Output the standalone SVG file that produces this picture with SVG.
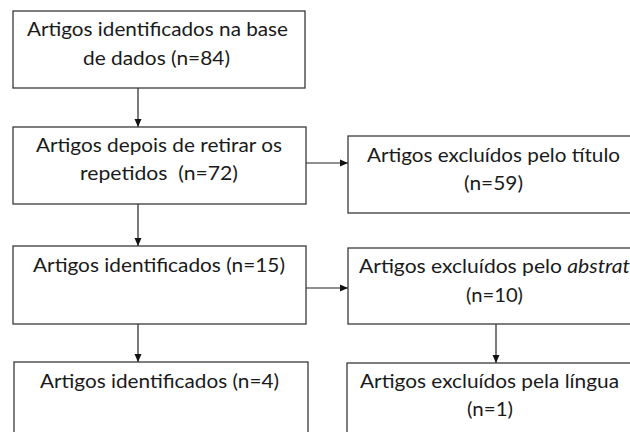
<svg xmlns="http://www.w3.org/2000/svg" width="630" height="432" viewBox="0 0 630 432">
<style>
.box{fill:#fff;stroke:#3a3a3a;stroke-width:1.3}
.t{font-family:Lato,"Open Sans","Liberation Sans",sans-serif;font-size:19.5px;fill:#1a1a1a;text-anchor:middle}
.c{stroke:#222;stroke-width:1.2;fill:none;marker-end:url(#ah)}
</style>
<defs>
<marker id="ah" viewBox="0 0 8 8" refX="8" refY="4" markerWidth="8" markerHeight="8" markerUnits="userSpaceOnUse" orient="auto">
<path d="M0,0.5 L8,4 L0,7.5 Z" fill="#111"/>
</marker>
</defs>
<rect width="630" height="432" fill="#fff"/>
<g id="connectors">
<line class="c" x1="138" y1="88" x2="138" y2="127"/>
<line class="c" x1="306" y1="163" x2="348" y2="163"/>
<line class="c" x1="138" y1="204" x2="138" y2="246"/>
<line class="c" x1="306" y1="288" x2="348" y2="288"/>
<line class="c" x1="138" y1="324" x2="138" y2="362"/>
<line class="c" x1="496" y1="324" x2="496" y2="363"/>
</g>
<g id="n1">
<rect class="box" x="13" y="11" width="292" height="77"/>
<text class="t" x="157.5" y="36" textLength="261" lengthAdjust="spacingAndGlyphs">Artigos identificados na base</text>
<text class="t" x="156.5" y="65" textLength="147" lengthAdjust="spacingAndGlyphs">de dados (n=84)</text>
</g>
<g id="n2">
<rect class="box" x="13" y="127" width="293" height="77"/>
<text class="t" x="159" y="152" textLength="246" lengthAdjust="spacingAndGlyphs">Artigos depois de retirar os</text>
<text class="t" x="159" y="180" textLength="158" lengthAdjust="spacingAndGlyphs" xml:space="preserve">repetidos  (n=72)</text>
</g>
<g id="n3">
<rect class="box" x="348" y="136" width="290" height="77"/>
<text class="t" x="493.5" y="162" textLength="253" lengthAdjust="spacingAndGlyphs">Artigos excluídos pelo título</text>
<text class="t" x="493.5" y="190" textLength="59" lengthAdjust="spacingAndGlyphs">(n=59)</text>
</g>
<g id="n4">
<rect class="box" x="13" y="246" width="293" height="78"/>
<text class="t" x="159" y="272" textLength="252" lengthAdjust="spacingAndGlyphs">Artigos identificados (n=15)</text>
</g>
<g id="n5">
<rect class="box" x="348" y="248" width="290" height="76"/>
<text class="t" x="494.5" y="273" textLength="271" lengthAdjust="spacingAndGlyphs">Artigos excluídos pelo <tspan font-style="italic">abstrat</tspan></text>
<text class="t" x="494.5" y="302" textLength="57" lengthAdjust="spacingAndGlyphs">(n=10)</text>
</g>
<g id="n6">
<rect class="box" x="14" y="362" width="294" height="80"/>
<text class="t" x="159.5" y="388" textLength="239" lengthAdjust="spacingAndGlyphs">Artigos identificados (n=4)</text>
</g>
<g id="n7">
<rect class="box" x="347" y="363" width="290" height="80"/>
<text class="t" x="489.5" y="388" textLength="259" lengthAdjust="spacingAndGlyphs">Artigos excluídos pela língua</text>
<text class="t" x="490" y="416" textLength="46" lengthAdjust="spacingAndGlyphs">(n=1)</text>
</g>
</svg>
